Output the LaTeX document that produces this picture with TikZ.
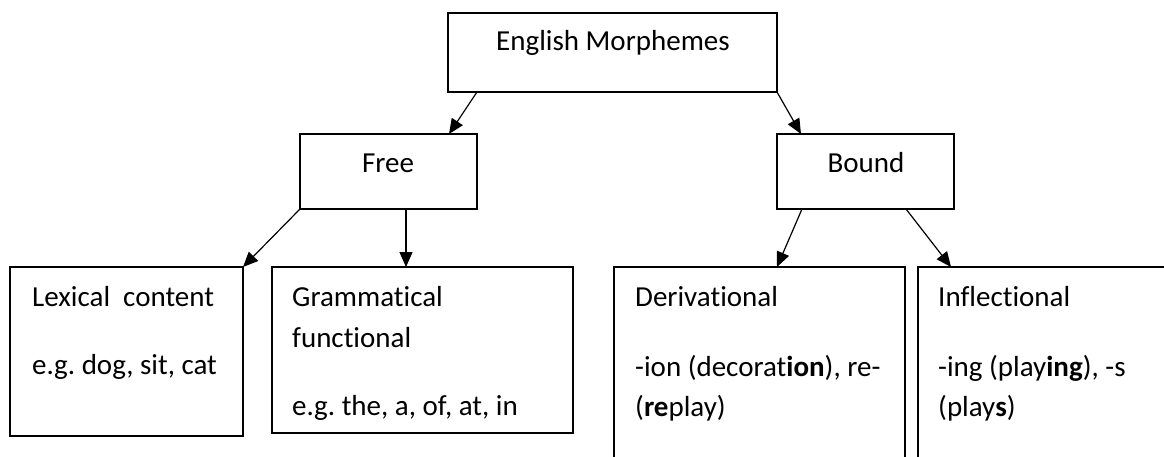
\documentclass[tikz,border=0pt]{standalone}
\usepackage{fontspec}
\setmainfont{Carlito}[Ligatures={NoCommon}]
\usetikzlibrary{arrows.meta,calc}
\frenchspacing
\begin{document}
\begin{tikzpicture}[x=1pt,y=-1pt,
  box/.style={draw,line width=1.5pt,inner sep=0pt,outer sep=0pt,anchor=north west},
  txt/.style={anchor=base west,inner sep=0pt,font=\fontsize{29}{35}\selectfont},
  ctxt/.style={anchor=base,inner sep=0pt,font=\fontsize{29}{35}\selectfont},
  arr/.style={-{Triangle[length=15pt,width=13pt]},line width=1.2pt}]
\useasboundingbox (0,0) rectangle (1164,457);
\clip (0,0) rectangle (1164,457);
\node[box,minimum width=329pt,minimum height=79pt] (top) at (448,13) {};
\node[box,minimum width=177pt,minimum height=75pt] (free) at (300,134) {};
\node[box,minimum width=177pt,minimum height=75pt] (bound) at (777,134) {};
\node[box,minimum width=233pt,minimum height=169pt] (lex) at (10,267) {};
\node[box,minimum width=301pt,minimum height=166pt] (gram) at (272,267) {};
\node[box,minimum width=291pt,minimum height=220pt] (der) at (614,267) {};
\node[box,minimum width=300pt,minimum height=220pt] (inf) at (918,267) {};
\node[ctxt] (topt) at (613,51) {English Morphemes};
\node[ctxt] (freet) at (388,173) {Free};
\node[ctxt] (boundt) at (866,173) {Bound};
\node[txt] (lex1) at (32,306) {Lexical~~content};
\node[txt] (lex2) at (32,374) {e.g. dog, sit, cat};
\node[txt] (gram1) at (292,306) {Grammatical};
\node[txt] (gram2) at (292,347) {functional};
\node[txt] (gram3) at (292,415) {e.g. the, a, of, at, in};
\node[txt] (der1) at (635,306) {Derivational};
\node[txt] (der2) at (635,376) {-ion (decorat\textbf{ion}), re-};
\node[txt] (der3) at (635,416) {(\textbf{re}play)};
\node[txt] (inf1) at (938,306) {Inflectional};
\node[txt] (inf2) at (938,376) {-ing (play\textbf{ing}), -s};
\node[txt] (inf3) at (938,416) {(play\textbf{s})};
\draw[arr] ($(top.south west)+(29,0)$) -- ($(free.north east)+(-28,0)$);
\draw[arr] (top.south east) -- ($(bound.north west)+(24,0)$);
\draw[arr] (free.south west) -- (lex.north east);
\draw[arr] ($(free.south west)+(106,0)$) -- ($(gram.north west)+(134,0)$);
\draw[arr] ($(bound.south west)+(25,0)$) -- ($(der.north west)+(163,0)$);
\draw[arr] ($(bound.south west)+(129,0)$) -- ($(inf.north west)+(33,0)$);
\end{tikzpicture}
\end{document}
